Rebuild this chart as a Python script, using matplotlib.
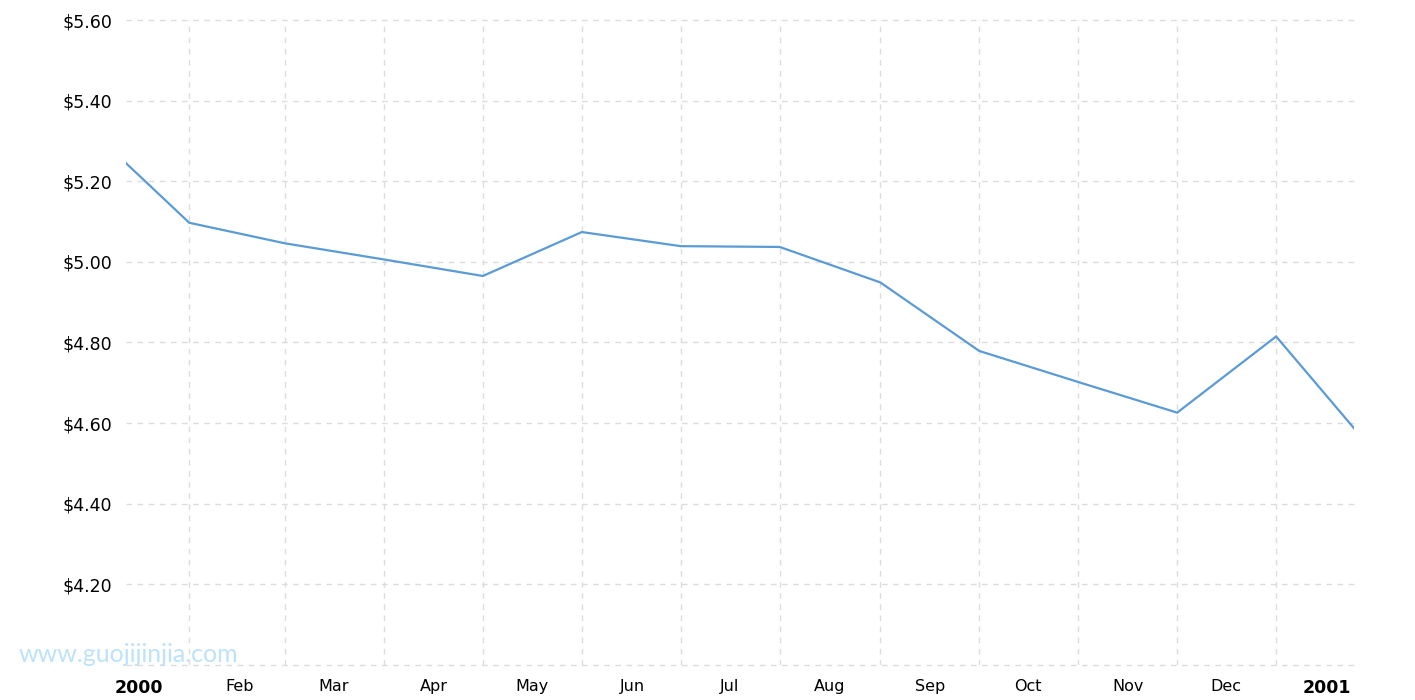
import matplotlib
matplotlib.use("Agg")
import matplotlib.pyplot as plt
import numpy as np
from datetime import datetime

# Data: monthly values, plotted at the middle of each month
dates = ["1999-12-16 12:00", "2000-01-16 12:00", "2000-02-15 00:00", "2000-03-16 12:00",
         "2000-04-16 00:00", "2000-05-16 12:00", "2000-06-16 00:00", "2000-07-16 12:00",
         "2000-08-16 12:00", "2000-09-16 00:00", "2000-10-16 12:00", "2000-11-16 00:00",
         "2000-12-16 12:00", "2001-01-16 12:00"]
values = [5.332, 5.097, 5.046, 5.006, 4.965, 5.074, 5.039, 5.037, 4.949,
          4.779, 4.702, 4.626, 4.815, 4.521]

tick_dates = ["2000-01-01", "2000-02-01", "2000-03-01", "2000-04-01", "2000-05-01",
              "2000-06-01", "2000-07-01", "2000-08-01", "2000-09-01", "2000-10-01",
              "2000-11-01", "2000-12-01", "2001-01-01"]
tick_labels = ["2000", "Feb", "Mar", "Apr", "May", "Jun", "Jul", "Aug", "Sep",
               "Oct", "Nov", "Dec", "2001"]
y_ticks = [4.0, 4.2, 4.4, 4.6, 4.8, 5.0, 5.2, 5.4, 5.6]

x = [datetime.strptime(d, "%Y-%m-%d %H:%M") for d in dates]
xt = [datetime.strptime(d, "%Y-%m-%d") for d in tick_dates]

W, H = 1415, 700
fig = plt.figure(figsize=(W / 100, H / 100), dpi=100)
L, R, T, B = 126, 1354, 20, 665
ax = fig.add_axes([L / W, 1 - B / H, (R - L) / W, (B - T) / H])
ax.patch.set_visible(False)

ax.plot(x, values, color="#5b9bd5", lw=1.6, zorder=3, solid_joinstyle="miter")

# y axis
ax.set_yticks(y_ticks)
ax.set_yticklabels(["" if v == 4.0 else f"${v:.2f}" for v in y_ticks])
ax.tick_params(axis="y", length=0, pad=10, labelsize=12.5, colors="#000000")

# x axis: labels at month starts, gridlines at data dates (mid-month)
ax.set_xticks(xt)
ax.set_xticklabels(tick_labels)
ax.set_xticks(x[1:-1], minor=True)
ax.tick_params(axis="x", which="both", length=0, pad=10, labelsize=11.5)
for lbl in ax.get_xticklabels():
    if lbl.get_text() in ("2000", "2001"):
        lbl.set_fontweight("bold")
        lbl.set_fontsize(12.5)

ax.set_xlim(datetime(1999, 12, 28), datetime(2001, 1, 9, 12))
ax.set_ylim(4.0, 5.6)

ax.grid(False)
ax.grid(axis="y", which="major", color="#dcdcdc", lw=1, ls=(0, (4, 4)))
ax.grid(axis="x", which="minor", color="#dcdcdc", lw=1, ls=(0, (4, 4)))
for gl in ax.get_ygridlines():
    gl.set_clip_on(False)
for s in ax.spines.values():
    s.set_visible(False)

fig.text(19 / W, 1 - 654 / H, "www.guojijinjia.com", color="#bde2fb",
         fontsize=18, family="Lato", fontweight="normal", va="center", ha="left",
         zorder=-1)

fig.savefig("out.png", dpi=100)
